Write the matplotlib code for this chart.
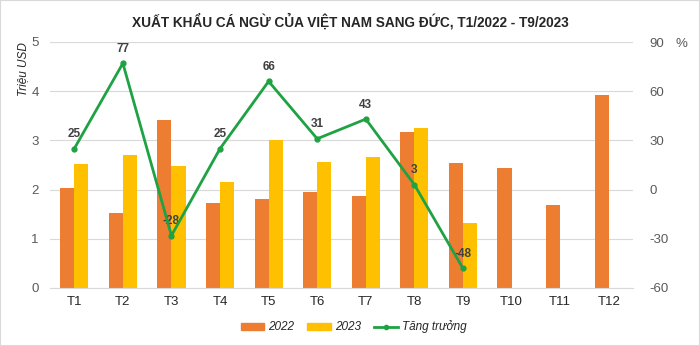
import matplotlib
matplotlib.use("Agg")
import matplotlib.pyplot as plt
from matplotlib.patches import Rectangle
from matplotlib.lines import Line2D
from matplotlib.patches import Patch
import numpy as np

months = ["T1", "T2", "T3", "T4", "T5", "T6", "T7", "T8", "T9", "T10", "T11", "T12"]
v2022 = [2.04, 1.52, 3.42, 1.73, 1.81, 1.96, 1.86, 3.18, 2.54, 2.44, 1.69, 3.93]
v2023 = [2.53, 2.71, 2.47, 2.16, 3.01, 2.57, 2.67, 3.26, 1.32]
growth = [25, 77, -28, 25, 66, 31, 43, 3, -48]

C22 = "#ED7D31"
C23 = "#FFC000"
CG = "#1FA244"
TXT = "#595959"

plt.rcParams['font.family'] = ['Liberation Sans', 'DejaVu Sans']
plt.rcParams['axes.unicode_minus'] = False

fig = plt.figure(figsize=(7.0, 3.46), dpi=100)
fig.patches.append(Rectangle((0, 0), 1, 1, transform=fig.transFigure, fill=False,
                             edgecolor="#D9D9D9", linewidth=1.5))
ax = fig.add_axes([50/700, 1-288/346, 583/700, 246/346])
x = np.arange(len(months))
w = 0.29
ax.bar(x - w/2, v2022, width=w, color=C22, zorder=2)
ax.bar(x[:len(v2023)] + w/2, v2023, width=w, color=C23, zorder=2)
ax.set_xlim(-0.5, len(months) - 0.5)
ax.set_ylim(0, 5)
ax.set_yticks(range(0, 6))
ax.set_xticks(x)
ax.set_xticklabels(months)
ax.grid(axis="y", color="#D9D9D9", linewidth=0.8, zorder=0)
for s in ["top", "right", "left"]:
    ax.spines[s].set_visible(False)
ax.spines["bottom"].set_color("#D9D9D9")
ax.tick_params(axis="both", length=0, labelsize=9.5, colors=TXT)
ax.tick_params(axis="x", labelcolor="#262626", pad=6)
ax.tick_params(axis="y", pad=8)
ax.text(-0.047, 1.0, "Triệu USD", transform=ax.transAxes, rotation=90, ha="center",
        va="top", fontsize=8.5, style="italic", color="#262626")

ax2 = ax.twinx()
ax2.set_ylim(-60, 90)
ax2.set_yticks(range(-60, 91, 30))
for s in ax2.spines.values():
    s.set_visible(False)
ax2.tick_params(axis="y", length=0, labelsize=9.5, colors=TXT, pad=12)
xg = x[:len(growth)]
ax2.plot(xg, growth, color=CG, linewidth=2, marker="o", markersize=3.5, zorder=5)
for xi, g in zip(xg, growth):
    ax2.annotate(str(g), (xi, g), xytext=(0, 6), textcoords="offset points",
                 ha="center", va="bottom", fontsize=8.5, fontweight="bold", color="#404040")
ax2.text(1.083, 0.99, "%", transform=ax.transAxes, ha="center", va="center",
         fontsize=9.5, color=TXT)

fig.text(0.5, 0.94, "XUẤT KHẨU CÁ NGỪ CỦA VIỆT NAM SANG ĐỨC, T1/2022 - T9/2023",
         ha="center", va="center", fontsize=9.8, fontweight="bold", color="#262626")

handles = [Patch(color=C22, label="2022"), Patch(color=C23, label="2023"),
           Line2D([0], [0], color=CG, linewidth=2, marker="o", markersize=3, label="Tăng trưởng")]
leg = fig.legend(handles=handles, loc="center", bbox_to_anchor=(0.505, 0.055), ncol=3,
                 frameon=False, fontsize=8.5, handlelength=2.0, handleheight=0.5,
                 columnspacing=1.1, handletextpad=0.35)
for t in leg.get_texts():
    t.set_style("italic")
    t.set_color("#262626")

fig.savefig("out.png", dpi=100)
